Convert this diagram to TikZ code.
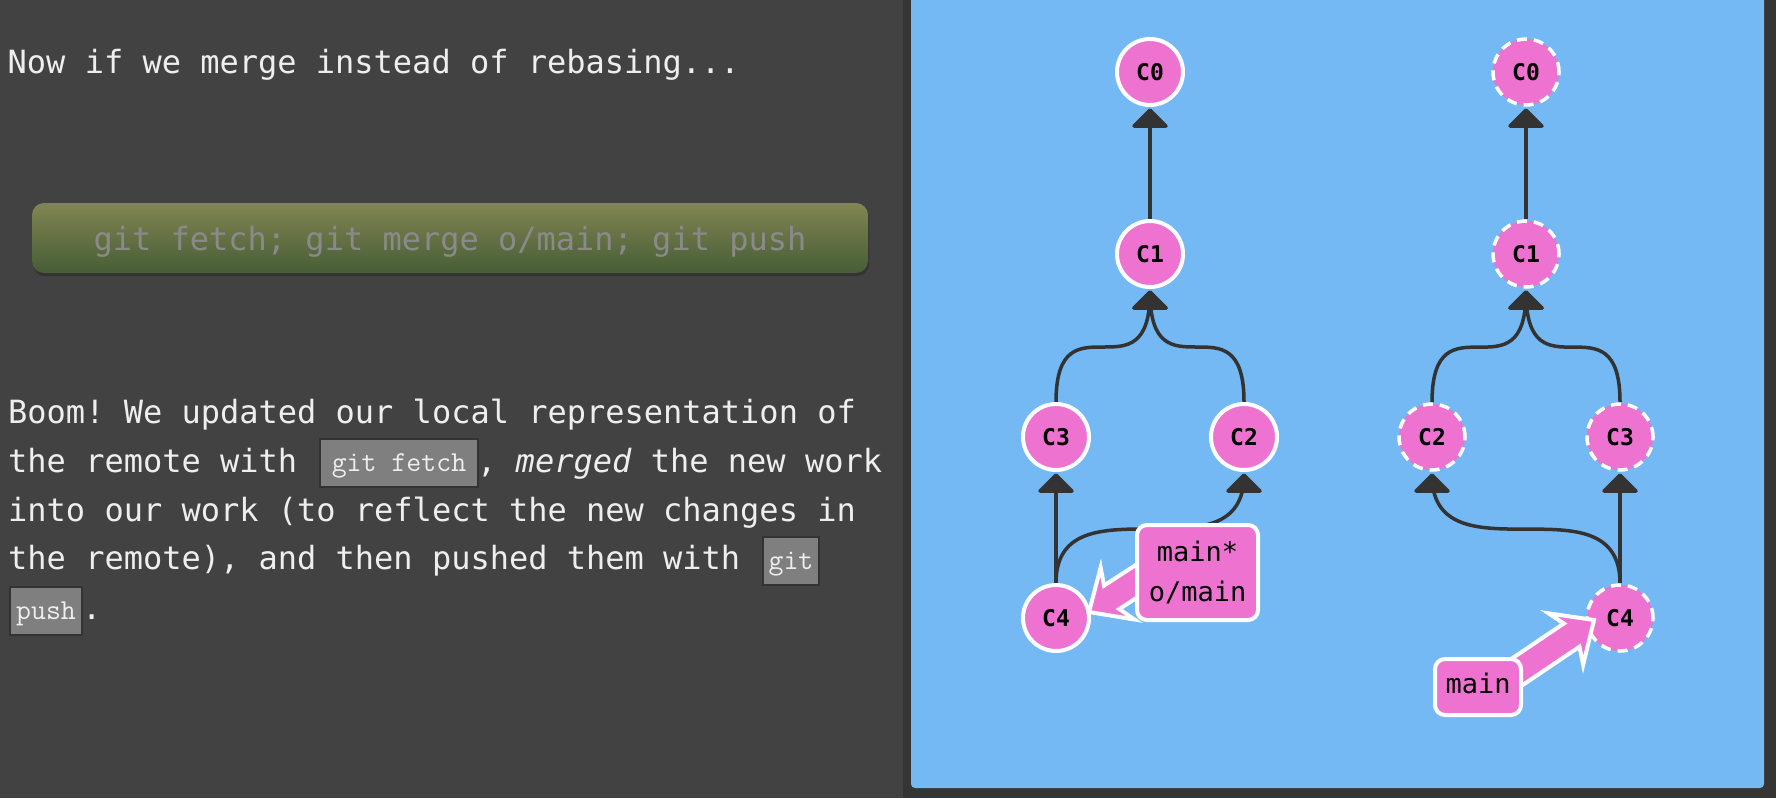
\documentclass[tikz,border=0pt]{standalone}
\usepackage{fontspec}
\newfontfamily\dvm{DejaVu Sans Mono}[ItalicFont={DejaVu Sans Mono Oblique},BoldFont={DejaVu Sans Mono Bold}]
\usetikzlibrary{calc}
\frenchspacing
\definecolor{pagebg}{HTML}{424242}
\definecolor{shadowc}{HTML}{353535}
\definecolor{panel}{HTML}{74B8F4}
\definecolor{commitpink}{HTML}{EE72CF}
\definecolor{edgec}{HTML}{333333}
\definecolor{txt}{HTML}{EEEEEE}
\definecolor{codefill}{HTML}{7F7F7F}
\definecolor{btntop}{HTML}{818552}
\definecolor{btnbot}{HTML}{475D36}
\definecolor{btntext}{HTML}{8A8A8A}
\pgfdeclarelayer{bglayer}
\pgfdeclarelayer{edgelayer}
\pgfsetlayers{bglayer,edgelayer,main}
\newcommand\gitedge[2]{%
  \draw[gedge] (#1.north) .. controls (#1.north |- #2) and (#2 |- #1.north) .. (#2);
  \filldraw[ghead] (#2) -- ++(-16,16) -- ++(32,0) -- cycle;}
\newcommand\brancharrow[3]{%
  \begin{scope}[shift={(#1)},rotate=#2]
    \filldraw[barrow] (0,0) -- (-34,31) -- (-27,14) -- (-#3,14) -- (-#3,-14) -- (-27,-14) -- (-34,-31) -- cycle;
  \end{scope}}
\begin{document}
\frenchspacing
\begin{tikzpicture}[x=1pt,y=-1pt,
  txtn/.style={anchor=base west,inner sep=0pt,text=txt,font=\dvm\fontsize{32}{38}\selectfont},
  codebox/.style={draw=edgec,line width=1.5pt,fill=codefill,text=txt,inner sep=0pt,
    font=\ttfamily\fontsize{29}{29}\selectfont,text height=16pt,text depth=0pt,minimum height=48pt},
  commit/.style={circle,fill=commitpink,draw=white,line width=4pt,minimum size=66pt,inner sep=0pt,
    font=\dvm\bfseries\fontsize{23}{23}\selectfont},
  ocommit/.style={commit,line width=3.5pt,dash pattern=on 10pt off 7pt},
  gedge/.style={draw=edgec,line width=3.5pt},
  ghead/.style={fill=edgec,draw=edgec,line width=3.5pt,line join=round},
  barrow/.style={fill=commitpink,draw=white,line width=4pt,line join=miter},
  blabel/.style={rectangle,rounded corners=10pt,fill=commitpink,draw=white,line width=4pt,inner sep=0pt,
    font=\dvm\fontsize{27}{40}\selectfont},
  btn/.style={rectangle,rounded corners=12pt,top color=btntop,bottom color=btnbot,text=btntext,
    minimum width=836pt,minimum height=70pt,inner sep=0pt,text height=24pt,text depth=0pt,
    font=\dvm\fontsize{32}{38}\selectfont}
]
\useasboundingbox (0,0) rectangle (1776,798);
\begin{pgfonlayer}{bglayer}
  \fill[pagebg] (0,0) rectangle (1776,798);
  \fill[shadowc] (903,0) rectangle (1776,798);
  \fill[panel,rounded corners=4pt] (911,-10) rectangle (1764,788);
  \fill[edgec,rounded corners=12pt] (33,206) rectangle (869,276);
\end{pgfonlayer}

% left text
\node[txtn] (head) at (7.5,73) {Now if we merge instead of rebasing...};
\node[btn] (btn) at (450,238) {git fetch; git merge o/main; git push};
\node[txtn] (p1) at (8,423) {Boom! We updated our local representation of};
\node[txtn] (p2a) at (8,472) {the remote with};
\node[codebox,minimum width=158pt] (cfetch) at (399,463) {git fetch};
\node[txtn] (p2b) at (477,472) {, \textit{merged} the new work};
\node[txtn] (p3) at (8,521) {into our work (to reflect the new changes in};
\node[txtn] (p4) at (8,569) {the remote), and then pushed them with};
\node[codebox,minimum width=56pt] (cgit) at (791,561) {git};
\node[codebox,minimum width=72pt] (cpush) at (46,611) {push};
\node[txtn] (p5) at (82,619) {.};

% left graph
\node[commit] (c0L) at (1150,72) {C0};
\node[commit] (c1L) at (1150,254) {C1};
\node[commit] (c3L) at (1056,437) {C3};
\node[commit] (c2L) at (1244,437) {C2};
\node[commit] (c4L) at (1056,618) {C4};
% right graph
\node[ocommit] (c0R) at (1526,72) {C0};
\node[ocommit] (c1R) at (1526,254) {C1};
\node[ocommit] (c2R) at (1432,437) {C2};
\node[ocommit] (c3R) at (1620,437) {C3};
\node[ocommit] (c4R) at (1620,618) {C4};

\coordinate (t0L) at ($(c0L.center)+(0,38)$);
\coordinate (t1L) at ($(c1L.center)+(0,38)$);
\coordinate (t2L) at ($(c2L.center)+(0,38)$);
\coordinate (t3L) at ($(c3L.center)+(0,38)$);
\coordinate (t0R) at ($(c0R.center)+(0,38)$);
\coordinate (t1R) at ($(c1R.center)+(0,38)$);
\coordinate (t2R) at ($(c2R.center)+(0,38)$);
\coordinate (t3R) at ($(c3R.center)+(0,38)$);

\begin{pgfonlayer}{edgelayer}
  \gitedge{c1L}{t0L}
  \gitedge{c3L}{t1L}
  \gitedge{c2L}{t1L}
  \gitedge{c4L}{t3L}
  \gitedge{c4L}{t2L}
  \gitedge{c1R}{t0R}
  \gitedge{c2R}{t1R}
  \gitedge{c3R}{t1R}
  \gitedge{c4R}{t3R}
  \gitedge{c4R}{t2R}
\end{pgfonlayer}

% branch arrows
\coordinate (tipL) at ($(c4L.center)+(33,-6)$);
\coordinate (tipR) at ($(c4R.center)+(-26,2)$);
\brancharrow{tipL}{213}{110}
\brancharrow{tipR}{34}{120}

% branch labels
\node[blabel,minimum width=121pt,minimum height=95pt,align=center] (lblL) at (1197.5,572.5) {main*\\o/main};
\node[blabel,minimum width=86pt,minimum height=56pt,text height=18pt,text depth=6pt] (lblR) at (1478,687) {main};
\end{tikzpicture}
\end{document}
